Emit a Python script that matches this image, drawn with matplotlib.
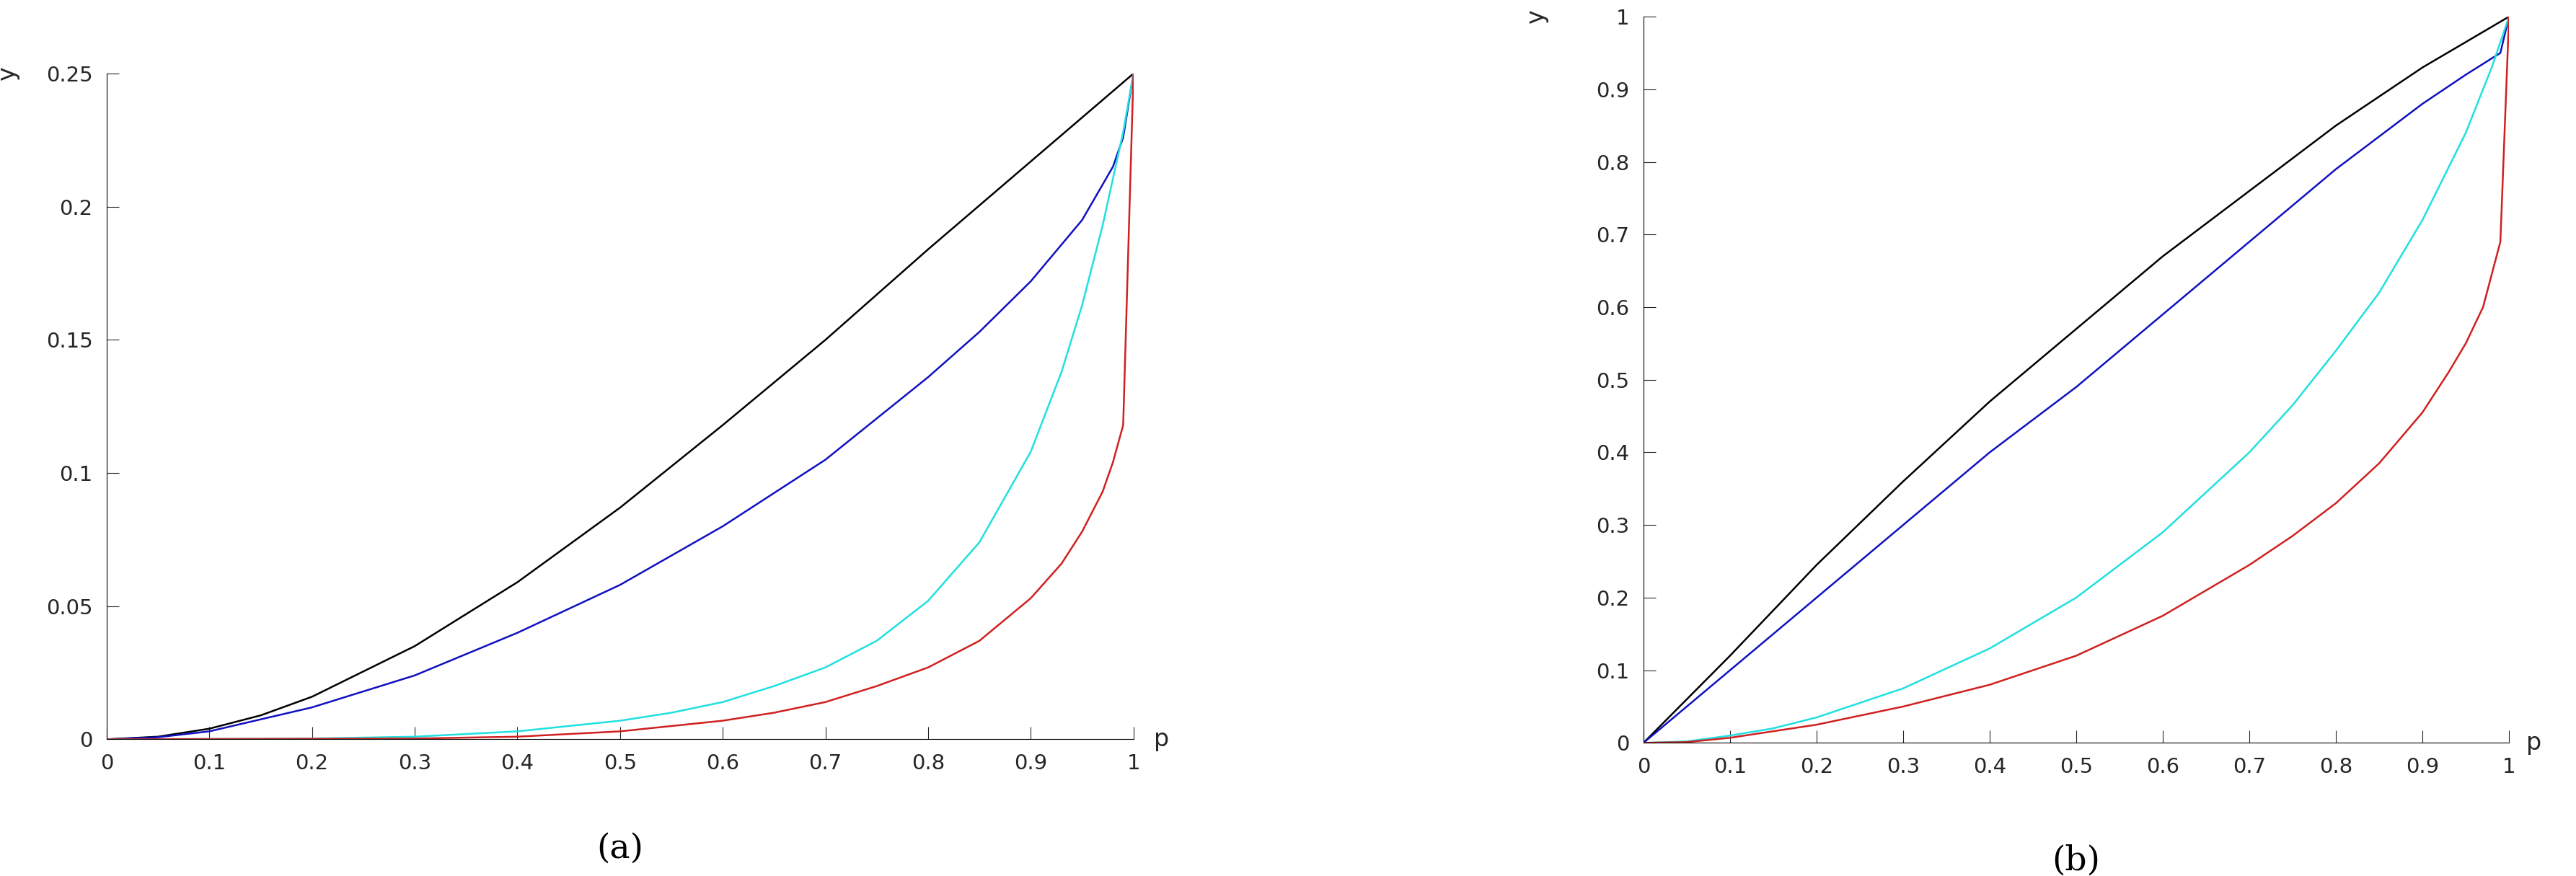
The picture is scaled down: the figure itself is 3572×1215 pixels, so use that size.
import matplotlib
matplotlib.use("Agg")
import matplotlib.pyplot as plt

# ── panel (a) ──
p_a_black = [0, 0.05, 0.1, 0.15, 0.2, 0.3, 0.4, 0.5, 0.6, 0.7, 0.8, 0.9, 1.0]
y_a_black = [0, 0.001, 0.004, 0.009, 0.016, 0.035, 0.059, 0.087, 0.118, 0.150, 0.184, 0.217, 0.25]
p_a_blue = [0, 0.05, 0.1, 0.2, 0.3, 0.4, 0.5, 0.6, 0.7, 0.8, 0.85, 0.9, 0.95, 0.98, 0.99, 1.0]
y_a_blue = [0, 0.0008, 0.003, 0.012, 0.024, 0.040, 0.058, 0.080, 0.105, 0.136, 0.153, 0.172, 0.195, 0.215, 0.226, 0.25]
p_a_cyan = [0, 0.2, 0.3, 0.4, 0.5, 0.55, 0.6, 0.65, 0.7, 0.75, 0.8, 0.85, 0.9, 0.93, 0.95, 0.97, 0.99, 1.0]
y_a_cyan = [0, 0.0003, 0.001, 0.003, 0.007, 0.010, 0.014, 0.020, 0.027, 0.037, 0.052, 0.074, 0.108, 0.138, 0.163, 0.193, 0.228, 0.25]
p_a_red = [0, 0.3, 0.4, 0.5, 0.6, 0.65, 0.7, 0.75, 0.8, 0.85, 0.9, 0.93, 0.95, 0.97, 0.98, 0.99, 1.0]
y_a_red = [0, 0.0003, 0.001, 0.003, 0.007, 0.010, 0.014, 0.020, 0.027, 0.037, 0.053, 0.066, 0.078, 0.093, 0.104, 0.118, 0.25]

# ── panel (b) ──
p_b_black = [0, 0.05, 0.1, 0.2, 0.3, 0.4, 0.5, 0.6, 0.7, 0.8, 0.9, 1.0]
y_b_black = [0, 0.06, 0.12, 0.245, 0.36, 0.47, 0.57, 0.67, 0.76, 0.85, 0.93, 1.0]
p_b_blue = [0, 0.1, 0.2, 0.3, 0.4, 0.5, 0.6, 0.7, 0.8, 0.9, 0.95, 0.99, 1.0]
y_b_blue = [0, 0.10, 0.20, 0.30, 0.40, 0.49, 0.59, 0.69, 0.79, 0.88, 0.92, 0.95, 1.0]
p_b_cyan = [0, 0.05, 0.1, 0.15, 0.2, 0.3, 0.4, 0.5, 0.6, 0.7, 0.75, 0.8, 0.85, 0.9, 0.95, 0.98, 1.0]
y_b_cyan = [0, 0.002, 0.01, 0.02, 0.035, 0.075, 0.13, 0.20, 0.29, 0.40, 0.465, 0.54, 0.62, 0.72, 0.84, 0.93, 1.0]
p_b_red = [0, 0.05, 0.1, 0.2, 0.3, 0.4, 0.5, 0.6, 0.7, 0.75, 0.8, 0.85, 0.9, 0.93, 0.95, 0.97, 0.99, 1.0]
y_b_red = [0, 0.001, 0.007, 0.025, 0.05, 0.08, 0.12, 0.175, 0.245, 0.285, 0.33, 0.385, 0.455, 0.51, 0.55, 0.60, 0.69, 1.0]

x_ticks = [0, 0.1, 0.2, 0.3, 0.4, 0.5, 0.6, 0.7, 0.8, 0.9, 1]
y_ticks_a = [0, 0.05, 0.1, 0.15, 0.2, 0.25]
y_ticks_b = [0, 0.1, 0.2, 0.3, 0.4, 0.5, 0.6, 0.7, 0.8, 0.9, 1]

COLORS = ["black", "#1010c0", "#20e0e0", "#d02020"]


def fmt(v):
    return "0" if v == 0 else ("1" if v == 1 else f"{v:g}")


def style_axes(ax, yticks, label):
    ax.set_xlim(0, 1)
    ax.set_ylim(0, yticks[-1])
    for s in ("top", "right"):
        ax.spines[s].set_visible(False)
    ax.set_xticks(x_ticks)
    ax.set_xticklabels([fmt(v) for v in x_ticks])
    ax.set_yticks(yticks)
    ax.set_yticklabels([fmt(v) for v in yticks])
    ax.tick_params(direction="in", length=12, labelsize=21, colors="#262626", pad=14)
    ax.text(1.02, 0, "p", transform=ax.get_yaxis_transform(), fontsize=24,
            va="center", ha="left", color="#262626")
    ax.text(-0.085 if label == "(a)" else -0.11, 1.0, "y", transform=ax.transAxes,
            fontsize=24, rotation=90, va="center", ha="right", color="#262626")
    ax.text(0.5, -0.14, label, transform=ax.transAxes, fontsize=34,
            ha="center", va="top", family="DejaVu Serif")


fig = plt.figure(figsize=(35.72, 12.15), dpi=100)
ax1 = fig.add_axes([0.0414, 0.156, 0.3986, 0.760])
ax2 = fig.add_axes([0.638, 0.152, 0.336, 0.829])

for (px, py), c in zip([(p_a_black, y_a_black), (p_a_blue, y_a_blue),
                        (p_a_cyan, y_a_cyan), (p_a_red, y_a_red)], COLORS):
    ax1.plot(px, py, color=c, lw=1.8)
for (px, py), c in zip([(p_b_black, y_b_black), (p_b_blue, y_b_blue),
                        (p_b_cyan, y_b_cyan), (p_b_red, y_b_red)], COLORS):
    ax2.plot(px, py, color=c, lw=1.8)

style_axes(ax1, y_ticks_a, "(a)")
style_axes(ax2, y_ticks_b, "(b)")

fig.savefig("out.png", dpi=100)
